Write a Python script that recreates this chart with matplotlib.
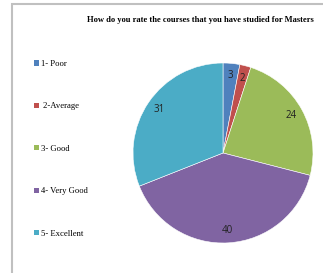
import matplotlib.pyplot as plt
import numpy as np
from matplotlib.patches import Patch, Rectangle

# data
categories = ["1- Poor", " 2-Average", "3- Good", "4- Very Good", "5- Excellent"]
values = [3, 2, 24, 40, 31]
colors = ["#4F81BD", "#C0504D", "#9BBB59", "#8064A2", "#4BACC6"]

W, H = 323, 273
fig = plt.figure(figsize=(W / 100, H / 100), dpi=100)

# chart border (only left and top edges visible in the crop)
fig.patches.append(Rectangle((11.5 / W, -0.1), 1.2, (H - 3.5) / H + 0.1,
                             transform=fig.transFigure, fill=False,
                             edgecolor="#C0C0C0", linewidth=1.5))

# pie: centre (223, 153), radius 90 px
cx, cy, r = 223, 153, 90
ax = fig.add_axes([(cx - r) / W, (H - cy - r) / H, 2 * r / W, 2 * r / H])
wedges, _ = ax.pie(values, colors=colors, startangle=90, counterclock=False,
                   radius=1, wedgeprops=dict(edgecolor="white", linewidth=0.4))
ax.set_xlim(-1, 1)
ax.set_ylim(-1, 1)
ax.set_aspect("equal")

# value labels
total = sum(values)
start = 90.0
for v in values:
    mid = np.deg2rad(start - v / total * 360 / 2)
    ax.text(0.86 * np.cos(mid), 0.86 * np.sin(mid), str(v), ha="center", va="center",
            fontsize=7, color="#222222", family="Open Sans")
    start -= v / total * 360

fig.text(200 / W, 1 - 20 / H, "How do you rate the courses that you have studied for Masters",
         ha="center", va="center", fontsize=6.1, fontweight="bold", family="Liberation Serif")

handles = [Patch(facecolor=c, edgecolor="none") for c in colors]
fig.legend(handles, categories, loc="upper left", bbox_to_anchor=(34 / W, 1 - 60 / H),
           frameon=False, prop={"family": "Liberation Serif", "size": 6.2},
           handlelength=0.55, handleheight=0.55, handletextpad=0.3, labelspacing=4.0,
           borderaxespad=0, borderpad=0)

fig.savefig("out.png", dpi=100)
